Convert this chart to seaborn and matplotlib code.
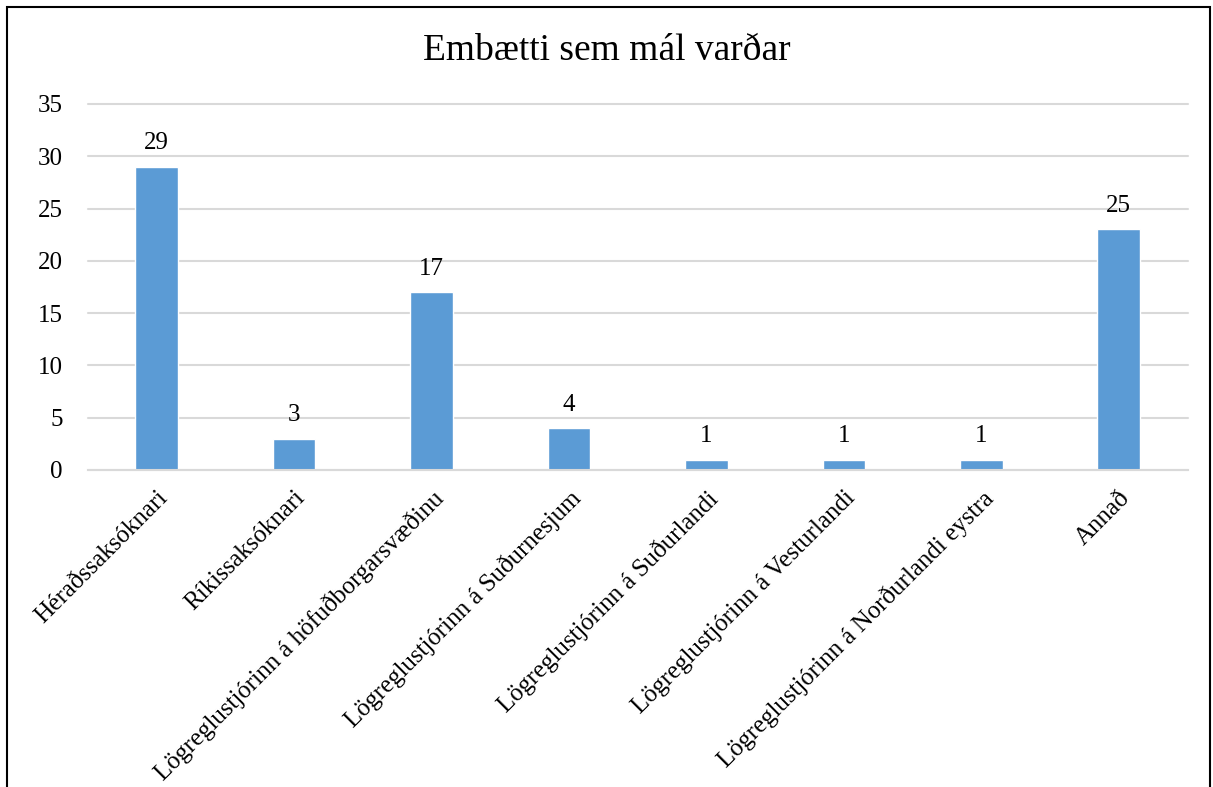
import matplotlib
matplotlib.use("Agg")
import matplotlib.pyplot as plt
from matplotlib.patches import Rectangle
import pandas as pd
import seaborn as sns

# Data
categories = [
    "Héraðssaksóknari",
    "Ríkissaksóknari",
    "Lögreglustjórinn á höfuðborgarsvæðinu",
    "Lögreglustjórinn á Suðurnesjum",
    "Lögreglustjórinn á Suðurlandi",
    "Lögreglustjórinn á Vesturlandi",
    "Lögreglustjórinn á Norðurlandi eystra",
    "Annað",
]
values = [29, 3, 17, 4, 1, 1, 1, 23]
value_labels = ["29", "3", "17", "4", "1", "1", "1", "25"]
y_ticks = [0, 5, 10, 15, 20, 25, 30, 35]

df = pd.DataFrame({"embaetti": categories, "fjoldi": values})

sns.set_style("white")
plt.rcParams["font.family"] = ["Liberation Serif", "DejaVu Serif"]
plt.rcParams["text.color"] = "black"
plt.rcParams["xtick.color"] = "black"
plt.rcParams["ytick.color"] = "black"

fig = plt.figure(figsize=(12.13, 7.87), dpi=100)
ax = fig.add_axes([0.0725, 0.4028, 0.9065, 0.4651])

sns.barplot(data=df, x="embaetti", y="fjoldi", color="#5B9BD5",
            saturation=1, width=0.31, ax=ax)

# data labels above bars
for i, (v, lab) in enumerate(zip(values, value_labels)):
    ax.annotate(lab, (i, v), xytext=(0, 9), textcoords="offset points",
                ha="center", va="bottom", fontsize=18, color="black")

ax.set_ylim(0, 35)
ax.set_xlim(-0.5, len(categories) - 0.5)
ax.set_yticks(y_ticks)
ax.set_yticklabels([str(t) for t in y_ticks], fontsize=18)
ax.set_xticks(range(len(categories)))
ax.set_xticklabels(categories, rotation=45, ha="right",
                   rotation_mode="anchor", fontsize=18)
ax.tick_params(axis="y", length=0, pad=18)
ax.tick_params(axis="x", length=0, pad=12)
ax.set_xlabel("")
ax.set_ylabel("")

ax.grid(axis="y", color="#D9D9D9", linewidth=1.5)
for gl in ax.get_ygridlines():
    gl.set_clip_on(False)
ax.set_axisbelow(True)
for side in ["left", "right", "top"]:
    ax.spines[side].set_visible(False)
ax.spines["bottom"].set_color("#D9D9D9")
ax.spines["bottom"].set_linewidth(1.5)

fig.text(0.5, 0.935, "Embætti sem mál varðar", ha="center", va="center",
         fontsize=27, color="black")

# outer chart frame
fig.patches.append(Rectangle((7 / 1213, -0.01), 1203 / 1213, 0.9995 - 7 / 787 + 0.01,
                             transform=fig.transFigure, fill=False,
                             edgecolor="black", linewidth=1.5))

fig.savefig("out.png", dpi=100)
